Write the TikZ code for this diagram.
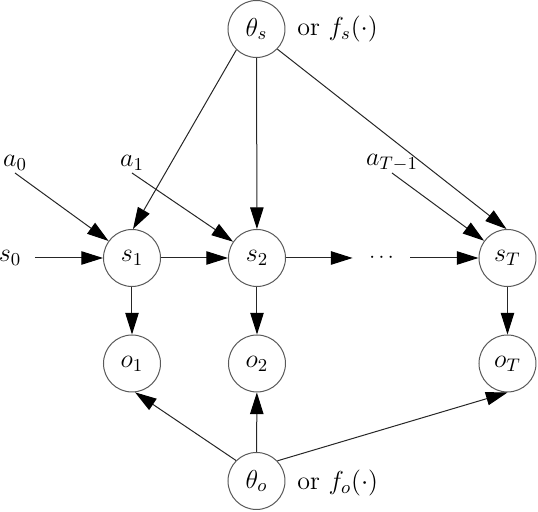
\documentclass[tikz,border=0pt]{standalone}
\usepackage{fix-cm}
\usetikzlibrary{arrows.meta}
\begin{document}
\begin{tikzpicture}[x=0.5pt,y=-0.5pt,
  every node/.style={font=\fontsize{13}{15}\selectfont},
  var/.style={circle,draw=black!65,line width=0.5pt,minimum size=28.5pt,inner sep=0pt},
  lbl/.style={inner sep=0pt},
  edge/.style={line width=0.5pt,draw=black!85,-{Triangle[length=10.8pt,width=6.7pt,fill=black,color=black]}}]
\useasboundingbox (0,0) rectangle (538,512);
% nodes
\node[var] (ts) at (256.5,29) {$\theta_s$};
\node[lbl,anchor=west] (tsl) at (297,29) {or $f_s(\cdot)$};
\node[var] (s1) at (132,258) {$s_1$};
\node[var] (s2) at (257,258) {$s_2$};
\node[var] (sT) at (507.5,258) {$s_T$};
\node[var] (o1) at (132,363.5) {$o_1$};
\node[var] (o2) at (257,363.5) {$o_2$};
\node[var] (oT) at (507.5,363.5) {$o_T$};
\node[var] (to) at (256.5,481) {$\theta_o$};
\node[lbl,anchor=west] (tol) at (297,483) {or $f_o(\cdot)$};
\node[lbl] (a0) at (15,163) {$a_0$};
\node[lbl] (a1) at (132,163) {$a_1$};
\node[lbl] (aT) at (392,163) {$a_{T-1}$};
\node[lbl] (s0) at (10,258) {$s_0$};
\node[lbl,minimum width=28.5pt,minimum height=10pt] (dots) at (381.5,258) {\scalebox{0.8}{$\cdots$}\hspace{3pt}};
\coordinate (a0p) at (15,173);
\coordinate (a1p) at (132,173);
\coordinate (aTp) at (392,173);
\coordinate (s0p) at (35,258);
% edges
\draw[edge] (ts.226) -- (s1.88);
\draw[edge] (ts) -- (s2);
\draw[edge] (ts.316) -- (sT.92);
\draw[edge] (a0p) -- (s1);
\draw[edge] (a1p) -- (s2);
\draw[edge] (aTp) -- (sT);
\draw[edge] (s0p) -- (s1);
\draw[edge] (s1) -- (s2);
\draw[edge] (s2) -- (dots);
\draw[edge] (dots) -- (sT);
\draw[edge] (s1) -- (o1);
\draw[edge] (s2) -- (o2);
\draw[edge] (sT) -- (oT);
\draw[edge] (to.135) -- (o1.-84);
\draw[edge] (to) -- (o2);
\draw[edge] (to.44) -- (oT.south);
\end{tikzpicture}
\end{document}
